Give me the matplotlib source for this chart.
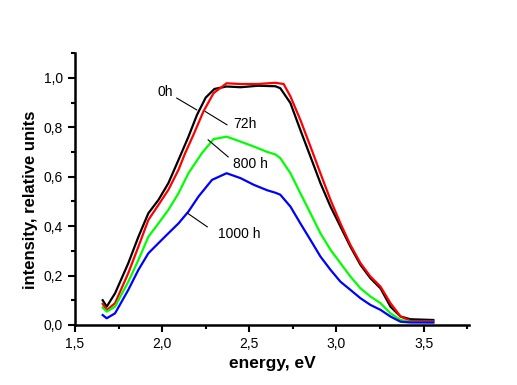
import matplotlib
matplotlib.use("Agg")
import matplotlib.pyplot as plt
from matplotlib.ticker import MultipleLocator, FuncFormatter

plt.rcParams['font.family'] = ['Liberation Sans', 'DejaVu Sans']

# spectra (energy in eV, relative intensity)
e_0h = [1.659, 1.682, 1.73, 1.806, 1.864, 1.921, 1.979, 2.036, 2.094, 2.15, 2.2, 2.25, 2.3,
        2.37, 2.45, 2.55, 2.65, 2.678, 2.736, 2.793, 2.851, 2.908, 2.966, 3.023, 3.08, 3.138,
        3.195, 3.253, 3.31, 3.368, 3.425, 3.556]
i_0h = [0.10, 0.074, 0.128, 0.25, 0.357, 0.452, 0.506, 0.574, 0.668, 0.76, 0.85, 0.92, 0.955,
        0.965, 0.962, 0.968, 0.966, 0.958, 0.898, 0.789, 0.681, 0.574, 0.479, 0.398, 0.317,
        0.243, 0.189, 0.148, 0.074, 0.034, 0.023, 0.02]

e_72h = [1.659, 1.682, 1.73, 1.806, 1.864, 1.921, 1.979, 2.036, 2.094, 2.132, 2.18, 2.237,
         2.295, 2.37, 2.45, 2.55, 2.65, 2.697, 2.736, 2.793, 2.851, 2.908, 2.966, 3.023, 3.08,
         3.138, 3.195, 3.253, 3.31, 3.368, 3.425, 3.556]
i_72h = [0.085, 0.06, 0.088, 0.21, 0.317, 0.425, 0.486, 0.547, 0.628, 0.695, 0.77, 0.864,
         0.938, 0.978, 0.975, 0.975, 0.98, 0.975, 0.925, 0.83, 0.722, 0.614, 0.506, 0.411,
         0.324, 0.25, 0.196, 0.155, 0.088, 0.034, 0.016, 0.015]

e_800h = [1.659, 1.682, 1.73, 1.806, 1.864, 1.921, 1.979, 2.036, 2.094, 2.151, 2.228, 2.295,
          2.37, 2.45, 2.526, 2.603, 2.65, 2.678, 2.736, 2.793, 2.851, 2.908, 2.966, 3.023,
          3.08, 3.138, 3.195, 3.253, 3.31, 3.368, 3.425, 3.556]
i_800h = [0.07, 0.054, 0.074, 0.175, 0.263, 0.357, 0.411, 0.466, 0.533, 0.614, 0.695, 0.752,
          0.762, 0.742, 0.722, 0.70, 0.69, 0.675, 0.614, 0.533, 0.452, 0.371, 0.304, 0.25,
          0.196, 0.148, 0.115, 0.088, 0.047, 0.02, 0.012, 0.01]

e_1000h = [1.659, 1.682, 1.73, 1.806, 1.864, 1.921, 1.979, 2.036, 2.094, 2.151, 2.209, 2.286,
           2.37, 2.45, 2.526, 2.603, 2.65, 2.678, 2.736, 2.793, 2.851, 2.908, 2.966, 3.023,
           3.08, 3.138, 3.195, 3.253, 3.31, 3.368, 3.425, 3.556]
i_1000h = [0.04, 0.027, 0.047, 0.142, 0.223, 0.29, 0.331, 0.371, 0.411, 0.459, 0.52, 0.587,
           0.614, 0.594, 0.567, 0.545, 0.535, 0.527, 0.479, 0.411, 0.344, 0.277, 0.223, 0.175,
           0.142, 0.108, 0.081, 0.061, 0.034, 0.013, 0.01, 0.01]

# label text, text position, leader line start/end
labels = [
    ("0h",     (2.017, 0.943), (2.084, 0.918), (2.199, 0.870)),
    ("72h",    (2.474, 0.814), (2.247, 0.864), (2.372, 0.810)),
    ("800 h",  (2.509, 0.652), (2.264, 0.749), (2.379, 0.680)),
    ("1000 h", (2.44, 0.368),  (2.144, 0.453), (2.259, 0.397)),
]

fig = plt.figure(figsize=(5.17, 3.85), dpi=100)
ax = fig.add_axes([0.145, 0.156, 0.762, 0.706])

ax.plot(e_0h, i_0h, color="black", lw=1.6)
ax.plot(e_72h, i_72h, color="red", lw=1.6)
ax.plot(e_800h, i_800h, color="#00ff00", lw=1.6)
ax.plot(e_1000h, i_1000h, color="blue", lw=1.6)

for txt, pos, p0, p1 in labels:
    ax.text(pos[0], pos[1], txt, fontsize=10, ha="center", va="center")
    ax.plot([p0[0], p1[0]], [p0[1], p1[1]], color="black", lw=0.8)

ax.set_xlim(1.5, 3.76)
ax.set_ylim(0, 1.1)
ax.xaxis.set_major_locator(MultipleLocator(0.5))
ax.xaxis.set_minor_locator(MultipleLocator(0.25))
ax.yaxis.set_major_locator(MultipleLocator(0.2))
ax.yaxis.set_minor_locator(MultipleLocator(0.1))
comma = FuncFormatter(lambda v, p: f"{v:.1f}".replace(".", ","))
ax.xaxis.set_major_formatter(comma)
ax.yaxis.set_major_formatter(comma)

for s in ("top", "right"):
    ax.spines[s].set_visible(False)
for s in ("left", "bottom"):
    ax.spines[s].set_linewidth(1.8)
ax.tick_params(which="major", direction="out", length=5, width=1.5, labelsize=10)
ax.tick_params(which="minor", direction="out", length=3, width=1.5)

ax.set_xlabel("energy, eV", fontsize=12.5, fontweight="bold")
ax.set_ylabel("intensity, relative units", fontsize=12, fontweight="bold")
ax.yaxis.set_label_coords(-0.095, 0.46)

fig.savefig("out.png", dpi=100)
